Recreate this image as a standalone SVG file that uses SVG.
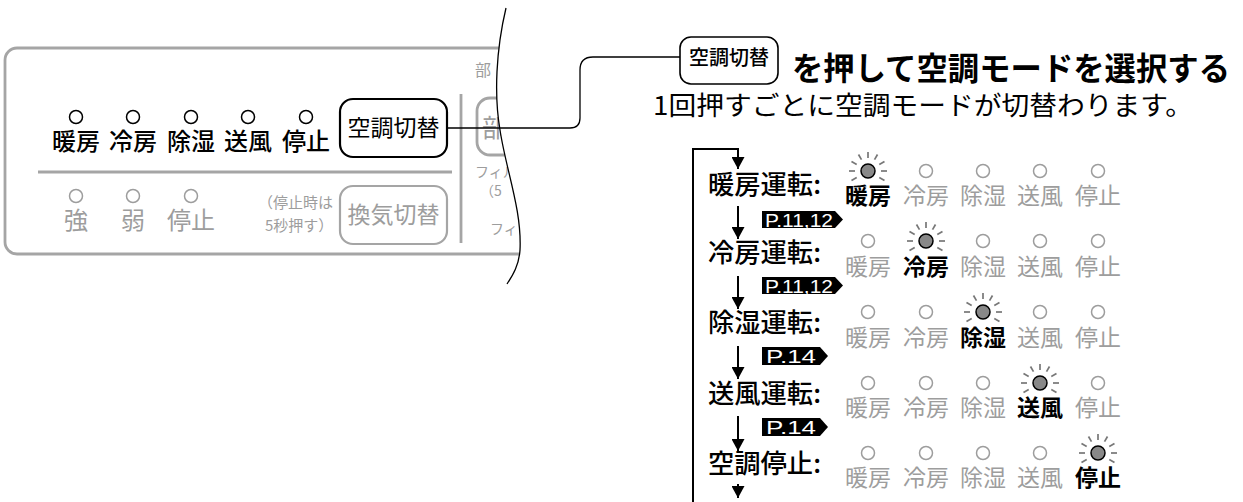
<svg xmlns="http://www.w3.org/2000/svg" width="1243" height="502" viewBox="0 0 1243 502">
<style>
text{font-family:"Noto Sans CJK JP","Noto Sans CJK SC",sans-serif}
.blk{fill:#000}
.gry{fill:#9d9d9d}
.lbl{font-size:23px;text-anchor:middle}
.big{font-size:24px;text-anchor:middle}
.mode{font-size:26px;font-weight:500;fill:#000}
.led{fill:none;stroke:#9d9d9d;stroke-width:1.5}
.ledk{fill:none;stroke:#000;stroke-width:1.5}
.on{fill:#888;stroke:#000;stroke-width:1.5}
.ray{stroke:#777;stroke-width:1.7;stroke-linecap:butt}
.gline{stroke:#a5a5a5;stroke-width:2.8;fill:none}
.kline{stroke:#000;stroke-width:2;fill:none}
.badge{fill:#000}
.btxt{font-family:"Liberation Sans",sans-serif;font-size:19px;fill:#fff}
</style>
<defs>
<clipPath id="cut">
<path d="M0,0 L506,0 L506,8 C496,50 494,95 500,130 C506,170 522,210 520,250 C519,265 513,275 507,284 L507,300 L0,300 Z"/>
</clipPath>
<marker id="ah" viewBox="0 0 12 13" refX="12" refY="6.5" markerWidth="12" markerHeight="13" markerUnits="userSpaceOnUse" orient="auto">
<path d="M0,0 L12,6.5 L0,13 Z" fill="#000"/>
</marker>
<g id="rays">
<line class="ray" x1="0" y1="-13" x2="0" y2="-19"/>
<line class="ray" x1="6.5" y1="-11.3" x2="9.5" y2="-16.5"/>
<line class="ray" x1="-6.5" y1="-11.3" x2="-9.5" y2="-16.5"/>
<line class="ray" x1="11.3" y1="-6.5" x2="16.5" y2="-9.5"/>
<line class="ray" x1="-11.3" y1="-6.5" x2="-16.5" y2="-9.5"/>
<line class="ray" x1="13" y1="0" x2="19" y2="0"/>
<line class="ray" x1="-13" y1="0" x2="-19" y2="0"/>
<line class="ray" x1="11.3" y1="6.5" x2="16.5" y2="9.5"/>
<line class="ray" x1="-11.3" y1="6.5" x2="-16.5" y2="9.5"/>
</g>
</defs>
<rect width="1243" height="502" fill="#fff"/>

<g id="panel" clip-path="url(#cut)">
<rect x="5" y="48" width="620" height="206" rx="12" class="gline"/>
<line x1="38" y1="172" x2="452" y2="172" class="gline"/>
<line x1="461" y1="94" x2="461" y2="243" class="gline"/>
<g id="panel-leds">
<circle cx="76" cy="117" r="6.5" class="ledk"/>
<circle cx="133" cy="117" r="6.5" class="ledk"/>
<circle cx="191" cy="117" r="6.5" class="ledk"/>
<circle cx="248" cy="117" r="6.5" class="ledk"/>
<circle cx="306" cy="117" r="6.5" class="ledk"/>
<text x="76" y="150" class="big blk" font-weight="500">暖房</text>
<text x="133" y="150" class="big blk" font-weight="500">冷房</text>
<text x="191" y="150" class="big blk" font-weight="500">除湿</text>
<text x="248" y="150" class="big blk" font-weight="500">送風</text>
<text x="306" y="150" class="big blk" font-weight="500">停止</text>
<circle cx="76" cy="196" r="6.5" class="led"/>
<circle cx="133" cy="196" r="6.5" class="led"/>
<circle cx="191" cy="196" r="6.5" class="led"/>
<text x="76" y="229" class="big gry">強</text>
<text x="133" y="229" class="big gry">弱</text>
<text x="191" y="229" class="big gry">停止</text>
<text x="258" y="208" font-size="15" class="gry">（停止時は</text>
<text x="265" y="231" font-size="15" class="gry">5秒押す）</text>
</g>
<g id="btn-kucho">
<rect x="340" y="99" width="107" height="58" rx="13" fill="#fff" stroke="#000" stroke-width="2.2"/>
<text x="393.5" y="136" font-size="23" text-anchor="middle" class="blk">空調切替</text>
</g>
<g id="btn-kanki">
<rect x="340" y="186" width="107" height="58" rx="13" fill="#fff" stroke="#a5a5a5" stroke-width="2.2"/>
<text x="393.5" y="223" font-size="23" text-anchor="middle" class="gry">換気切替</text>
</g>
<g id="panel-right">
<text x="475" y="76" font-size="16" class="gry">部</text>
<rect x="477" y="98" width="60" height="57" rx="13" class="gline" stroke-width="2"/>
<text x="482" y="137" font-size="25" class="gry">部</text>
<text x="475" y="177" font-size="14" class="gry">フィル</text>
<text x="480" y="196" font-size="14" class="gry">（5</text>
<text x="490" y="234" font-size="14" class="gry">フィ</text>
</g>
</g>
<path id="cutline" d="M506,8 C496,50 494,95 500,130 C506,170 522,210 520,250 C519,265 513,275 507,284" fill="none" stroke="#000" stroke-width="1.3"/>

<g id="connectors">
<path d="M447,128 H570 Q580,128 580,118 V70 Q580,57 593,57 H680" fill="none" stroke="#000" stroke-width="1.3"/>
<path d="M693,502 V149 H738 V169" class="kline" marker-end="url(#ah)"/>
<path d="M738,206 V239" class="kline" marker-end="url(#ah)"/>
<path d="M738,276 V309" class="kline" marker-end="url(#ah)"/>
<path d="M738,346 V379" class="kline" marker-end="url(#ah)"/>
<path d="M738,416 V451" class="kline" marker-end="url(#ah)"/>
<path d="M738,484 V498" class="kline" marker-end="url(#ah)"/>
</g>

<g id="title">
<rect x="680" y="37" width="98" height="47" rx="11" fill="#fff" stroke="#000" stroke-width="1.6"/>
<text x="729" y="65" font-size="20" text-anchor="middle" class="blk" font-weight="500">空調切替</text>
<text x="792" y="80" font-size="32" font-weight="700" class="blk" textLength="438" lengthAdjust="spacingAndGlyphs">を押して空調モードを選択する</text>
<text x="653" y="115" font-size="26" class="blk" textLength="540" lengthAdjust="spacingAndGlyphs">1回押すごとに空調モードが切替わります。</text>
</g>

<g id="modes">
<text x="708" y="194" class="mode" textLength="113" lengthAdjust="spacingAndGlyphs">暖房運転:</text>
<text x="708" y="262" class="mode" textLength="113" lengthAdjust="spacingAndGlyphs">冷房運転:</text>
<text x="708" y="332" class="mode" textLength="113" lengthAdjust="spacingAndGlyphs">除湿運転:</text>
<text x="708" y="403" class="mode" textLength="113" lengthAdjust="spacingAndGlyphs">送風運転:</text>
<text x="708" y="473" class="mode" textLength="113" lengthAdjust="spacingAndGlyphs">空調停止:</text>
</g>

<g id="badges">
<path d="M762,211 H835 L843,219.5 L835,228 H762 Z" class="badge"/>
<text x="765" y="226.5" class="btxt" textLength="68" lengthAdjust="spacingAndGlyphs">P.11,12</text>
<path d="M762,277 H835 L843,285.5 L835,294 H762 Z" class="badge"/>
<text x="765" y="292.5" class="btxt" textLength="68" lengthAdjust="spacingAndGlyphs">P.11,12</text>
<path d="M762,347 H820 L828,356 L820,365 H762 Z" class="badge"/>
<text x="766" y="363" class="btxt" textLength="50" lengthAdjust="spacingAndGlyphs">P.14</text>
<path d="M762,418 H820 L828,427 L820,436 H762 Z" class="badge"/>
<text x="766" y="434" class="btxt" textLength="50" lengthAdjust="spacingAndGlyphs">P.14</text>
</g>

<g id="row-heat">
<use href="#rays" x="868" y="171"/>
<circle cx="868" cy="171" r="7" class="on"/>
<circle cx="926" cy="171" r="6.5" class="led"/>
<circle cx="983" cy="171" r="6.5" class="led"/>
<circle cx="1040" cy="171" r="6.5" class="led"/>
<circle cx="1098" cy="171" r="6.5" class="led"/>
<text x="868" y="204" class="lbl blk" font-weight="700">暖房</text>
<text x="926" y="204" class="lbl gry">冷房</text>
<text x="983" y="204" class="lbl gry">除湿</text>
<text x="1040" y="204" class="lbl gry">送風</text>
<text x="1098" y="204" class="lbl gry">停止</text>
</g>
<g id="row-cool">
<circle cx="868" cy="241" r="6.5" class="led"/>
<use href="#rays" x="926" y="241"/>
<circle cx="926" cy="241" r="7" class="on"/>
<circle cx="983" cy="241" r="6.5" class="led"/>
<circle cx="1040" cy="241" r="6.5" class="led"/>
<circle cx="1098" cy="241" r="6.5" class="led"/>
<text x="868" y="275" class="lbl gry">暖房</text>
<text x="926" y="275" class="lbl blk" font-weight="700">冷房</text>
<text x="983" y="275" class="lbl gry">除湿</text>
<text x="1040" y="275" class="lbl gry">送風</text>
<text x="1098" y="275" class="lbl gry">停止</text>
</g>
<g id="row-dry">
<circle cx="868" cy="312" r="6.5" class="led"/>
<circle cx="926" cy="312" r="6.5" class="led"/>
<use href="#rays" x="983" y="312"/>
<circle cx="983" cy="312" r="7" class="on"/>
<circle cx="1040" cy="312" r="6.5" class="led"/>
<circle cx="1098" cy="312" r="6.5" class="led"/>
<text x="868" y="346" class="lbl gry">暖房</text>
<text x="926" y="346" class="lbl gry">冷房</text>
<text x="983" y="346" class="lbl blk" font-weight="700">除湿</text>
<text x="1040" y="346" class="lbl gry">送風</text>
<text x="1098" y="346" class="lbl gry">停止</text>
</g>
<g id="row-fan">
<circle cx="868" cy="383" r="6.5" class="led"/>
<circle cx="926" cy="383" r="6.5" class="led"/>
<circle cx="983" cy="383" r="6.5" class="led"/>
<use href="#rays" x="1040" y="383"/>
<circle cx="1040" cy="383" r="7" class="on"/>
<circle cx="1098" cy="383" r="6.5" class="led"/>
<text x="868" y="416" class="lbl gry">暖房</text>
<text x="926" y="416" class="lbl gry">冷房</text>
<text x="983" y="416" class="lbl gry">除湿</text>
<text x="1040" y="416" class="lbl blk" font-weight="700">送風</text>
<text x="1098" y="416" class="lbl gry">停止</text>
</g>
<g id="row-stop">
<circle cx="868" cy="453" r="6.5" class="led"/>
<circle cx="926" cy="453" r="6.5" class="led"/>
<circle cx="983" cy="453" r="6.5" class="led"/>
<circle cx="1040" cy="453" r="6.5" class="led"/>
<use href="#rays" x="1098" y="453"/>
<circle cx="1098" cy="453" r="7" class="on"/>
<text x="868" y="486" class="lbl gry">暖房</text>
<text x="926" y="486" class="lbl gry">冷房</text>
<text x="983" y="486" class="lbl gry">除湿</text>
<text x="1040" y="486" class="lbl gry">送風</text>
<text x="1098" y="486" class="lbl blk" font-weight="700">停止</text>
</g>
</svg>
